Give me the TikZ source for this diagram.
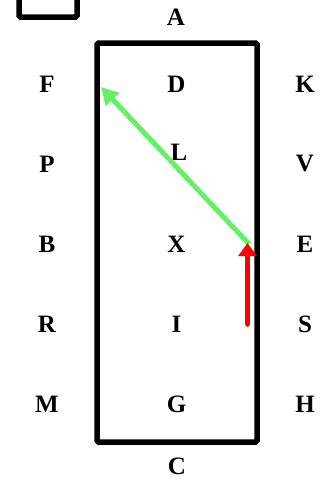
\documentclass[tikz,border=0pt]{standalone}
\usepackage{fontspec}
\setmainfont{Liberation Serif}
\usetikzlibrary{arrows.meta}
\definecolor{arrowgreen}{RGB}{102,240,102}
\definecolor{arrowred}{RGB}{255,0,0}
\tikzset{
  lbl/.style={inner sep=0pt, font=\fontsize{25}{25}\selectfont\bfseries},
  frame/.style={draw=black, line width=5.5pt, rounded corners=1.5pt},
  greenarrow/.style={draw=arrowgreen, line width=5pt, -{Triangle[length=17pt,width=18pt]}},
  redarrow/.style={draw=arrowred, line width=5.5pt, line cap=round, -{Triangle[length=13pt,width=18pt]}},
}
\begin{document}
\begin{tikzpicture}[x=1pt,y=-1pt]
\useasboundingbox (0,0) rectangle (327,485);
\fill[white] (0,0) rectangle (327,485);
\begin{scope}
\clip (0,0) rectangle (327,485);
\draw[frame] (19,-20) rectangle (77,17);
\end{scope}
\draw[frame] (97,43) rectangle (257,442);
\node[lbl] (A) at (176,17) {A};
\node[lbl] (F) at (47,84) {F};
\node[lbl] (D) at (176.5,84) {D};
\node[lbl] (K) at (305,84) {K};
\node[lbl] (P) at (47,164) {P};
\node[lbl] (L) at (179,152) {L};
\node[lbl] (V) at (305,164) {V};
\node[lbl] (B) at (47,244) {B};
\node[lbl] (X) at (176.5,244) {X};
\node[lbl] (E) at (305,244) {E};
\node[lbl] (R) at (47,324) {R};
\node[lbl] (I) at (176.5,324) {I};
\node[lbl] (S) at (305,324) {S};
\node[lbl] (M) at (47,404) {M};
\node[lbl] (G) at (176.5,404) {G};
\node[lbl] (H) at (305,404) {H};
\node[lbl] (C) at (177,466) {C};
\coordinate (gtail) at (249,244);
\coordinate (gtip) at (101,87);
\coordinate (rtail) at (247.5,324);
\coordinate (rtip) at (247.5,243);
\draw[greenarrow] (gtail) -- (gtip);
\draw[redarrow] (rtail) -- (rtip);
\end{tikzpicture}
\end{document}
